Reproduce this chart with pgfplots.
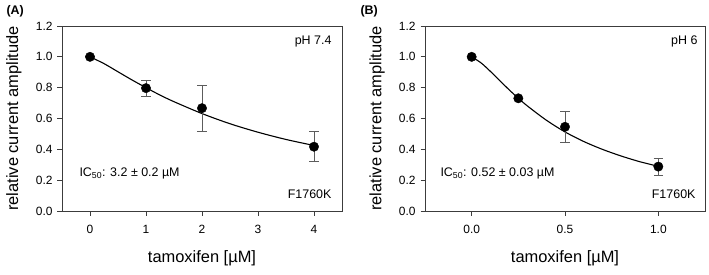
\documentclass[border=0pt]{standalone}
\usepackage{fontspec}
\setmainfont{Liberation Sans}
\usepackage{pgfplots}
\pgfplotsset{compat=1.18}

\definecolor{axisgray}{HTML}{3C3C3C}
\definecolor{errgray}{HTML}{5C5C5C}

\pgfplotstableread{
x    y      err
0    1.000  0
1    0.797  0.051
2    0.667  0.148
4    0.417  0.097
}\dataA

\pgfplotstableread{
x    y
0    1.000
0.25 0.956
0.5  0.903
0.75 0.850
1    0.800
1.25 0.752
1.5  0.709
2    0.632
2.5  0.566
3    0.511
3.5  0.464
4    0.425
}\fitA

\pgfplotstableread{
x    y      err
0    1.000  0
0.25 0.731  0
0.5  0.546  0.100
1.0  0.288  0.055
}\dataB

\pgfplotstableread{
x     y
0     1.000
0.05  0.961
0.1   0.906
0.15  0.846
0.2   0.787
0.25  0.731
0.3   0.680
0.4   0.589
0.5   0.513
0.6   0.451
0.7   0.400
0.8   0.357
0.9   0.320
1.0   0.290
}\fitB

\tikzset{note/.style={font=\fontsize{12.5}{14}\selectfont}}

\pgfplotsset{
  panel/.style={
    scale only axis, width=280bp, height=185bp,
    ymin=0, ymax=1.2,
    ytick={0,0.2,0.4,0.6,0.8,1.0,1.2},
    yticklabels={0.0,0.2,0.4,0.6,0.8,1.0,1.2},
    tick pos=left, tick align=outside,
    major tick length=4.5bp,
    axis line style={axisgray, line width=0.8bp},
    every tick/.style={axisgray, line width=0.8bp},
    /pgf/number format/assume math mode=true,
    tick label style={font=\fontsize{12}{14}\selectfont, black},
    xticklabel style={yshift=-6bp},
    yticklabel style={xshift=-1.5bp},
    every axis y label/.style={at={(axis description cs:0,0.5)}, xshift=-48bp,
      rotate=90, anchor=center, font=\fontsize{16.5}{19}\selectfont},
    every axis x label/.style={at={(axis description cs:0.5,0)}, yshift=-47bp,
      anchor=center, font=\fontsize{16.5}{19}\selectfont},
    ylabel={relative current amplitude},
    xlabel={tamoxifen [µM]},
    clip=false,
  },
  pts/.style={
    only marks, mark=*, mark size=4.7bp, mark options={fill=black, draw=black},
    error bars/.cd, y dir=both, y explicit,
    error bar style={errgray, line width=0.8bp},
    error mark options={rotate=90, mark size=4.8bp, errgray, line width=0.8bp},
  },
  fitline/.style={black, line width=1.1bp, smooth, no marks},
}

\begin{document}
\begin{tikzpicture}
\useasboundingbox (0,0) rectangle (709bp,275bp);

% panel A: pH 7.4
\begin{axis}[panel, at={(62bp,64bp)}, anchor=south west,
  xmin=-0.5, xmax=4.5, xtick={0,1,2,3,4}]
  \addplot[fitline] table[x=x, y=y] {\fitA};
  \addplot[pts] table[x=x, y=y, y error=err] {\dataA};
  \node[note, anchor=east, xshift=-7bp] at (rel axis cs:1,0.914) {pH 7.4};
  \node[note, anchor=east, xshift=-7bp] at (rel axis cs:1,0.092) {F1760K};
  \node[note, anchor=west, xshift=14bp] at (rel axis cs:0,0.205) {IC\textsubscript{50}: 3.2 ± 0.2 µM};
\end{axis}
\node[anchor=west, font=\bfseries\fontsize{12.5}{14}\selectfont] at (3bp,264bp) {(A)};

% panel B: pH 6
\begin{axis}[panel, at={(425bp,64bp)}, anchor=south west,
  xmin=-0.25, xmax=1.25, xtick={0,0.5,1.0}, xticklabels={0.0,0.5,1.0}]
  \addplot[fitline] table[x=x, y=y] {\fitB};
  \addplot[pts] table[x=x, y=y, y error=err] {\dataB};
  \node[note, anchor=east, xshift=-4bp] at (rel axis cs:1,0.914) {pH 6};
  \node[note, anchor=east, xshift=-6bp] at (rel axis cs:1,0.092) {F1760K};
  \node[note, anchor=west, xshift=12bp] at (rel axis cs:0,0.205) {IC\textsubscript{50}: 0.52 ± 0.03 µM};
\end{axis}
\node[anchor=west, font=\bfseries\fontsize{12.5}{14}\selectfont] at (357bp,264bp) {(B)};
\end{tikzpicture}
\end{document}
